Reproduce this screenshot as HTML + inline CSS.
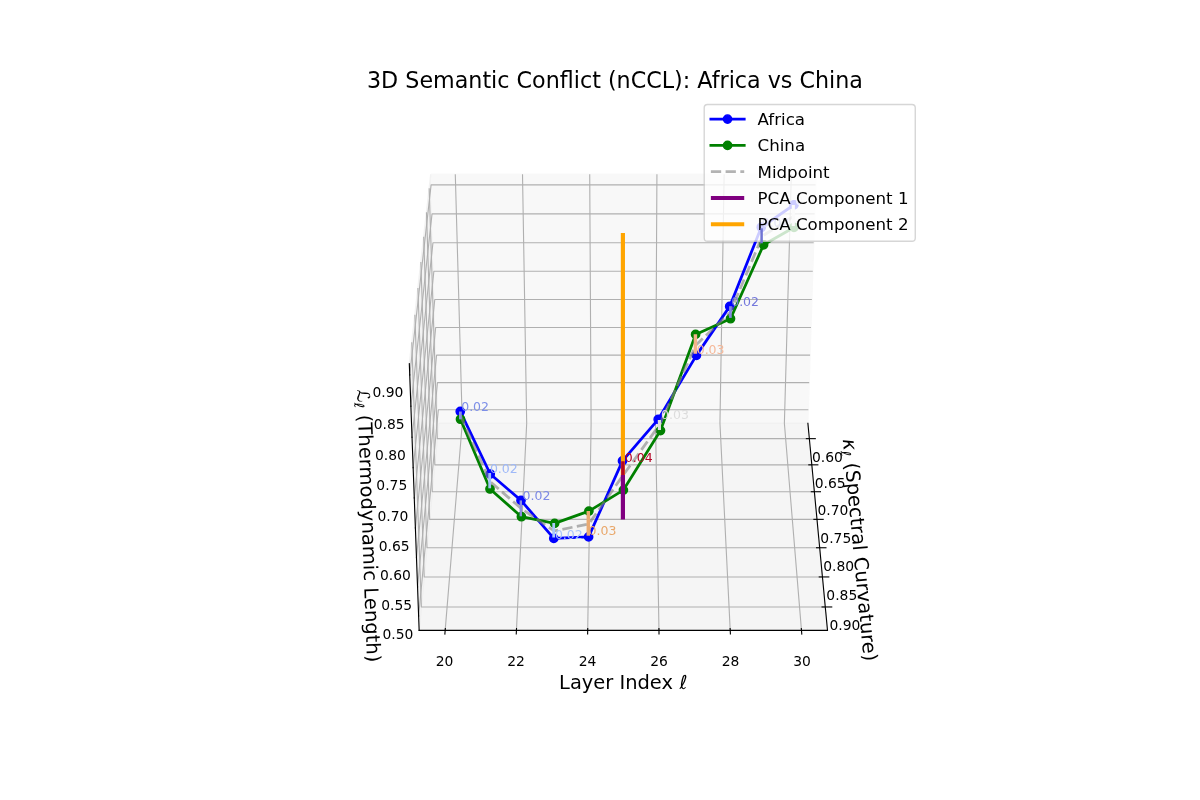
<!DOCTYPE html>
<html lang="en"><head><meta charset="utf-8"><title>3D Semantic Conflict (nCCL): Africa vs China</title>
<style>html,body{margin:0;padding:0;background:#fff;width:1200px;height:800px;overflow:hidden}svg{display:block;font-family:"DejaVu Sans","Liberation Sans",sans-serif}</style>
</head><body>
<svg width="1200" height="800" viewBox="0 0 864 576">
 <defs>
  <style type="text/css">*{stroke-linejoin: round; stroke-linecap: butt}</style>
 </defs>
 <g id="figure_1">
  <g id="patch_1">
   <path d="M 0 576 
L 864 576 
L 864 0 
L 0 0 
z
" style="fill: #ffffff"/>
  </g>
  <g id="patch_2">
   <path d="M 221.04 512.64 
L 664.56 512.64 
L 664.56 69.12 
L 221.04 69.12 
z
" style="fill: #ffffff"/>
  </g>
  <g id="pane3d_1">
   <g id="patch_3">
    <path d="M 315.907197 304.755523 
L 301.794363 453.864811 
L 294.708461 261.847835 
L 310.143239 125.505355 
" style="fill: #e6e6e6; opacity: 0.5; stroke: #e6e6e6; stroke-linejoin: miter"/>
   </g>
  </g>
  <g id="pane3d_2">
   <g id="patch_4">
    <path d="M 315.907197 304.755523 
L 581.67983 304.755523 
L 587.443788 125.505355 
L 310.143239 125.505355 
" style="fill: #f2f2f2; opacity: 0.5; stroke: #f2f2f2; stroke-linejoin: miter"/>
   </g>
  </g>
  <g id="pane3d_3">
   <g id="patch_5">
    <path d="M 315.907197 304.755523 
L 581.67983 304.755523 
L 595.792664 453.864811 
L 301.794363 453.864811 
" style="fill: #ececec; opacity: 0.5; stroke: #ececec; stroke-linejoin: miter"/>
   </g>
  </g>
  <g id="grid3d_1">
   <g id="Line3DCollection_1">
    <path d="M 320.522003 453.864811 
L 332.836867 304.755523 
L 327.807236 125.505355 
" style="fill: none; stroke: #b0b0b0; stroke-width: 0.8"/>
    <path d="M 371.830607 453.864811 
L 379.219526 304.755523 
L 376.201747 125.505355 
" style="fill: none; stroke: #b0b0b0; stroke-width: 0.8"/>
    <path d="M 423.139212 453.864811 
L 425.602184 304.755523 
L 424.596258 125.505355 
" style="fill: none; stroke: #b0b0b0; stroke-width: 0.8"/>
    <path d="M 474.447816 453.864811 
L 471.984843 304.755523 
L 472.990769 125.505355 
" style="fill: none; stroke: #b0b0b0; stroke-width: 0.8"/>
    <path d="M 525.75642 453.864811 
L 518.367501 304.755523 
L 521.38528 125.505355 
" style="fill: none; stroke: #b0b0b0; stroke-width: 0.8"/>
    <path d="M 577.065024 453.864811 
L 564.75016 304.755523 
L 569.779791 125.505355 
" style="fill: none; stroke: #b0b0b0; stroke-width: 0.8"/>
   </g>
  </g>
  <g id="grid3d_2">
   <g id="Line3DCollection_2">
    <path d="M 309.001689 135.589193 
L 314.858945 315.830835 
L 582.728082 315.830835 
" style="fill: none; stroke: #b0b0b0; stroke-width: 0.8"/>
    <path d="M 307.056752 152.769718 
L 313.074619 334.683155 
L 584.512408 334.683155 
" style="fill: none; stroke: #b0b0b0; stroke-width: 0.8"/>
    <path d="M 305.056931 170.435056 
L 311.242108 354.044572 
L 586.344919 354.044572 
" style="fill: none; stroke: #b0b0b0; stroke-width: 0.8"/>
    <path d="M 302.999869 188.606023 
L 309.359433 373.935991 
L 588.227594 373.935991 
" style="fill: none; stroke: #b0b0b0; stroke-width: 0.8"/>
    <path d="M 300.883075 207.304643 
L 307.424506 394.379476 
L 590.162521 394.379476 
" style="fill: none; stroke: #b0b0b0; stroke-width: 0.8"/>
    <path d="M 298.703906 226.554237 
L 305.435122 415.398334 
L 592.151905 415.398334 
" style="fill: none; stroke: #b0b0b0; stroke-width: 0.8"/>
    <path d="M 296.459566 246.379523 
L 303.388948 437.017203 
L 594.198079 437.017203 
" style="fill: none; stroke: #b0b0b0; stroke-width: 0.8"/>
   </g>
  </g>
  <g id="grid3d_3">
   <g id="Line3DCollection_3">
    <path d="M 581.99232 295.037555 
L 315.594707 295.037555 
L 301.411878 443.500062 
" style="fill: none; stroke: #b0b0b0; stroke-width: 0.8"/>
    <path d="M 582.621731 275.463857 
L 314.965296 275.463857 
L 300.640906 422.607907 
" style="fill: none; stroke: #b0b0b0; stroke-width: 0.8"/>
    <path d="M 583.257118 255.704296 
L 314.329909 255.704296 
L 299.861825 401.496024 
" style="fill: none; stroke: #b0b0b0; stroke-width: 0.8"/>
    <path d="M 583.898568 235.756211 
L 313.688459 235.756211 
L 299.074507 380.160927 
" style="fill: none; stroke: #b0b0b0; stroke-width: 0.8"/>
    <path d="M 584.546166 215.616892 
L 313.040861 215.616892 
L 298.278821 358.599058 
" style="fill: none; stroke: #b0b0b0; stroke-width: 0.8"/>
    <path d="M 585.200003 195.283576 
L 312.387024 195.283576 
L 297.474632 336.806782 
" style="fill: none; stroke: #b0b0b0; stroke-width: 0.8"/>
    <path d="M 585.860169 174.753446 
L 311.726858 174.753446 
L 296.661804 314.780387 
" style="fill: none; stroke: #b0b0b0; stroke-width: 0.8"/>
    <path d="M 586.526756 154.023631 
L 311.060271 154.023631 
L 295.840195 292.516078 
" style="fill: none; stroke: #b0b0b0; stroke-width: 0.8"/>
    <path d="M 587.199858 133.091202 
L 310.38717 133.091202 
L 295.009665 270.00998 
" style="fill: none; stroke: #b0b0b0; stroke-width: 0.8"/>
   </g>
  </g>
  <g id="axis3d_1">
   <g id="line2d_1">
    <path d="M 301.794363 453.864811 
L 595.792664 453.864811 
" style="fill: none; stroke: #000000; stroke-width: 0.8; stroke-linecap: square"/>
   </g>
   <g id="xtick_1">
    <g id="line2d_2">
     <path d="M 320.630893 452.546371 
L 320.303669 456.508423 
" style="fill: none; stroke: #000000; stroke-width: 0.8; stroke-linecap: square"/>
    </g>
    <g id="text_1">
     <text style="font-size: 10px; font-family: 'DejaVu Sans', sans-serif; text-anchor: middle" x="320.1363" y="479.5666">20</text>
    </g>
   </g>
   <g id="xtick_2">
    <g id="line2d_3">
     <path d="M 371.895941 452.546371 
L 371.699607 456.508423 
" style="fill: none; stroke: #000000; stroke-width: 0.8; stroke-linecap: square"/>
    </g>
    <g id="text_2">
     <text style="font-size: 10px; font-family: 'DejaVu Sans', sans-serif; text-anchor: middle" x="371.5992" y="479.5666">22</text>
    </g>
   </g>
   <g id="xtick_3">
    <g id="line2d_4">
     <path d="M 423.160989 452.546371 
L 423.095545 456.508423 
" style="fill: none; stroke: #000000; stroke-width: 0.8; stroke-linecap: square"/>
    </g>
    <g id="text_3">
     <text style="font-size: 10px; font-family: 'DejaVu Sans', sans-serif; text-anchor: middle" x="423.0621" y="479.5666">24</text>
    </g>
   </g>
   <g id="xtick_4">
    <g id="line2d_5">
     <path d="M 474.426038 452.546371 
L 474.491482 456.508423 
" style="fill: none; stroke: #000000; stroke-width: 0.8; stroke-linecap: square"/>
    </g>
    <g id="text_4">
     <text style="font-size: 10px; font-family: 'DejaVu Sans', sans-serif; text-anchor: middle" x="474.5250" y="479.5666">26</text>
    </g>
   </g>
   <g id="xtick_5">
    <g id="line2d_6">
     <path d="M 525.691086 452.546371 
L 525.88742 456.508423 
" style="fill: none; stroke: #000000; stroke-width: 0.8; stroke-linecap: square"/>
    </g>
    <g id="text_5">
     <text style="font-size: 10px; font-family: 'DejaVu Sans', sans-serif; text-anchor: middle" x="525.9878" y="479.5666">28</text>
    </g>
   </g>
   <g id="xtick_6">
    <g id="line2d_7">
     <path d="M 576.956134 452.546371 
L 577.283358 456.508423 
" style="fill: none; stroke: #000000; stroke-width: 0.8; stroke-linecap: square"/>
    </g>
    <g id="text_6">
     <text style="font-size: 10px; font-family: 'DejaVu Sans', sans-serif; text-anchor: middle" x="577.4507" y="479.5666">30</text>
    </g>
   </g>
   <g id="text_7">
    <g transform="translate(402.5235 496.5025)">
     <text xml:space="preserve"><tspan x="0" y="-0.359375" style="font-size: 14px; font-family: 'DejaVu Sans', sans-serif">Layer Index </tspan><tspan x="86.720703" y="-0.359375" style="font-style: oblique; font-size: 14px; font-family: 'DejaVu Sans', sans-serif">ℓ</tspan></text>
    </g>
   </g>
  </g>
  <g id="axis3d_2">
   <g id="line2d_8">
    <path d="M 581.67983 304.755523 
L 595.792664 453.864811 
" style="fill: none; stroke: #000000; stroke-width: 0.8; stroke-linecap: square"/>
   </g>
   <g id="xtick_7">
    <g id="line2d_9">
     <path d="M 580.585128 315.830835 
L 587.013988 315.830835 
" style="fill: none; stroke: #000000; stroke-width: 0.8; stroke-linecap: square"/>
    </g>
    <g id="text_8">
     <text style="font-size: 10px; font-family: 'DejaVu Sans', sans-serif; text-anchor: middle" x="595.7570" y="332.2965">0.60</text>
    </g>
   </g>
   <g id="xtick_8">
    <g id="line2d_10">
     <path d="M 582.340906 334.683155 
L 588.855413 334.683155 
" style="fill: none; stroke: #000000; stroke-width: 0.8; stroke-linecap: square"/>
    </g>
    <g id="text_9">
     <text style="font-size: 10px; font-family: 'DejaVu Sans', sans-serif; text-anchor: middle" x="597.7108" y="351.2231">0.65</text>
    </g>
   </g>
   <g id="xtick_9">
    <g id="line2d_11">
     <path d="M 584.144097 354.044572 
L 590.746564 354.044572 
" style="fill: none; stroke: #000000; stroke-width: 0.8; stroke-linecap: square"/>
    </g>
    <g id="text_10">
     <text style="font-size: 10px; font-family: 'DejaVu Sans', sans-serif; text-anchor: middle" x="599.7172" y="370.6597">0.70</text>
    </g>
   </g>
   <g id="xtick_10">
    <g id="line2d_12">
     <path d="M 585.996649 373.935991 
L 592.689485 373.935991 
" style="fill: none; stroke: #000000; stroke-width: 0.8; stroke-linecap: square"/>
    </g>
    <g id="text_11">
     <text style="font-size: 10px; font-family: 'DejaVu Sans', sans-serif; text-anchor: middle" x="601.7784" y="390.6272">0.75</text>
    </g>
   </g>
   <g id="xtick_11">
    <g id="line2d_13">
     <path d="M 587.900617 394.379476 
L 594.686329 394.379476 
" style="fill: none; stroke: #000000; stroke-width: 0.8; stroke-linecap: square"/>
    </g>
    <g id="text_12">
     <text style="font-size: 10px; font-family: 'DejaVu Sans', sans-serif; text-anchor: middle" x="603.8967" y="411.1477">0.80</text>
    </g>
   </g>
   <g id="xtick_12">
    <g id="line2d_14">
     <path d="M 589.858171 415.398334 
L 596.739373 415.398334 
" style="fill: none; stroke: #000000; stroke-width: 0.8; stroke-linecap: square"/>
    </g>
    <g id="text_13">
     <text style="font-size: 10px; font-family: 'DejaVu Sans', sans-serif; text-anchor: middle" x="606.0745" y="432.2445">0.85</text>
    </g>
   </g>
   <g id="xtick_13">
    <g id="line2d_15">
     <path d="M 591.871606 437.017203 
L 598.851025 437.017203 
" style="fill: none; stroke: #000000; stroke-width: 0.8; stroke-linecap: square"/>
    </g>
    <g id="text_14">
     <text style="font-size: 10px; font-family: 'DejaVu Sans', sans-serif; text-anchor: middle" x="608.3143" y="453.9421">0.90</text>
    </g>
   </g>
   <g id="text_15">
    <g transform="translate(606.4756 316.4521) rotate(-275.406801)">
     <text xml:space="preserve"><tspan x="0" y="-0.359375" style="font-style: oblique; font-size: 14px; font-family: 'DejaVu Sans', sans-serif">κ</tspan><tspan x="8.250977" y="1.9375" style="font-style: oblique; font-size: 9.8px; font-family: 'DejaVu Sans', sans-serif">ℓ</tspan><tspan x="12.682031" y="-0.359375" style="font-size: 14px; font-family: 'DejaVu Sans', sans-serif; letter-spacing: 0.045px"> (Spectral Curvature)</tspan></text>
    </g>
   </g>
  </g>
  <g id="axis3d_3">
   <g id="line2d_16">
    <path d="M 301.794363 453.864811 
L 294.708461 261.847835 
" style="fill: none; stroke: #000000; stroke-width: 0.8; stroke-linecap: square"/>
   </g>
   <g id="xtick_14">
    <g id="line2d_17">
     <path d="M 301.411878 443.500062 
L 301.411878 443.500062 
" style="fill: none; stroke: #000000; stroke-width: 0.8; stroke-linecap: square"/>
    </g>
    <g id="text_16">
     <text style="font-size: 10px; font-family: 'DejaVu Sans', sans-serif; text-anchor: middle" x="286.4499" y="460.0401">0.50</text>
    </g>
   </g>
   <g id="xtick_15">
    <g id="line2d_18">
     <path d="M 300.640906 422.607907 
L 300.640906 422.607907 
" style="fill: none; stroke: #000000; stroke-width: 0.8; stroke-linecap: square"/>
    </g>
    <g id="text_17">
     <text style="font-size: 10px; font-family: 'DejaVu Sans', sans-serif; text-anchor: middle" x="285.5931" y="439.0792">0.55</text>
    </g>
   </g>
   <g id="xtick_16">
    <g id="line2d_19">
     <path d="M 299.861825 401.496024 
L 299.861825 401.496024 
" style="fill: none; stroke: #000000; stroke-width: 0.8; stroke-linecap: square"/>
    </g>
    <g id="text_18">
     <text style="font-size: 10px; font-family: 'DejaVu Sans', sans-serif; text-anchor: middle" x="284.7272" y="417.8967">0.60</text>
    </g>
   </g>
   <g id="xtick_17">
    <g id="line2d_20">
     <path d="M 299.074507 380.160927 
L 299.074507 380.160927 
" style="fill: none; stroke: #000000; stroke-width: 0.8; stroke-linecap: square"/>
    </g>
    <g id="text_19">
     <text style="font-size: 10px; font-family: 'DejaVu Sans', sans-serif; text-anchor: middle" x="283.8521" y="396.4891">0.65</text>
    </g>
   </g>
   <g id="xtick_18">
    <g id="line2d_21">
     <path d="M 298.278821 358.599058 
L 298.278821 358.599058 
" style="fill: none; stroke: #000000; stroke-width: 0.8; stroke-linecap: square"/>
    </g>
    <g id="text_20">
     <text style="font-size: 10px; font-family: 'DejaVu Sans', sans-serif; text-anchor: middle" x="282.9677" y="374.8527">0.70</text>
    </g>
   </g>
   <g id="xtick_19">
    <g id="line2d_22">
     <path d="M 297.474632 336.806782 
L 297.474632 336.806782 
" style="fill: none; stroke: #000000; stroke-width: 0.8; stroke-linecap: square"/>
    </g>
    <g id="text_21">
     <text style="font-size: 10px; font-family: 'DejaVu Sans', sans-serif; text-anchor: middle" x="282.0737" y="352.9838">0.75</text>
    </g>
   </g>
   <g id="xtick_20">
    <g id="line2d_23">
     <path d="M 296.661804 314.780387 
L 296.661804 314.780387 
" style="fill: none; stroke: #000000; stroke-width: 0.8; stroke-linecap: square"/>
    </g>
    <g id="text_22">
     <text style="font-size: 10px; font-family: 'DejaVu Sans', sans-serif; text-anchor: middle" x="281.1701" y="330.8786">0.80</text>
    </g>
   </g>
   <g id="xtick_21">
    <g id="line2d_24">
     <path d="M 295.840195 292.516078 
L 295.840195 292.516078 
" style="fill: none; stroke: #000000; stroke-width: 0.8; stroke-linecap: square"/>
    </g>
    <g id="text_23">
     <text style="font-size: 10px; font-family: 'DejaVu Sans', sans-serif; text-anchor: middle" x="280.2567" y="308.5334">0.85</text>
    </g>
   </g>
   <g id="xtick_22">
    <g id="line2d_25">
     <path d="M 295.009665 270.00998 
L 295.009665 270.00998 
" style="fill: none; stroke: #000000; stroke-width: 0.8; stroke-linecap: square"/>
    </g>
    <g id="text_24">
     <text style="font-size: 10px; font-family: 'DejaVu Sans', sans-serif; text-anchor: middle" x="279.3334" y="285.9442">0.90</text>
    </g>
   </g>
   <g id="text_25">
    <g transform="translate(256.6935 280.0655) rotate(-272.113397)">
     <text xml:space="preserve"><tspan x="0.5" y="-0.359375" style="font-style: italic; font-size: 12.6px; font-family: 'DejaVu Sans', sans-serif">ℒ</tspan><tspan x="9.83598" y="1.9375" style="font-style: oblique; font-size: 9.8px; font-family: 'DejaVu Sans', sans-serif">ℓ</tspan><tspan x="14.267035" y="-0.359375" style="font-size: 14px; font-family: 'DejaVu Sans', sans-serif; letter-spacing: 0.056px"> (Thermodynamic Length)</tspan></text>
    </g>
   </g>
  </g>
  <g id="axes_1">
   <g id="line2d_26">
    <path d="M 331.38 296.244 
L 352.98 341.28 
L 375.12 360.288 
L 398.736 387.648 
L 423.792 386.568 
L 448.2 331.848 
L 473.904 301.968 
L 501.408 255.888 
L 525.384 220.608 
L 548.136 163.656 
L 571.68 147.456 
" clip-path="url(#p24e002a8de)" style="fill: none; stroke: #0000ff; stroke-width: 2; stroke-linecap: square"/>
    <defs>
     <path id="m4c0daf60ea" d="M 0 3 
C 0.795609 3 1.55874 2.683901 2.12132 2.12132 
C 2.683901 1.55874 3 0.795609 3 0 
C 3 -0.795609 2.683901 -1.55874 2.12132 -2.12132 
C 1.55874 -2.683901 0.795609 -3 0 -3 
C -0.795609 -3 -1.55874 -2.683901 -2.12132 -2.12132 
C -2.683901 -1.55874 -3 -0.795609 -3 0 
C -3 0.795609 -2.683901 1.55874 -2.12132 2.12132 
C -1.55874 2.683901 -0.795609 3 0 3 
z
" style="stroke: #0000ff"/>
    </defs>
    <g clip-path="url(#p24e002a8de)">
     <use xlink:href="#m4c0daf60ea" x="331.38" y="296.244" style="fill: #0000ff; stroke: #0000ff"/>
     <use xlink:href="#m4c0daf60ea" x="352.98" y="341.28" style="fill: #0000ff; stroke: #0000ff"/>
     <use xlink:href="#m4c0daf60ea" x="375.12" y="360.288" style="fill: #0000ff; stroke: #0000ff"/>
     <use xlink:href="#m4c0daf60ea" x="398.736" y="387.648" style="fill: #0000ff; stroke: #0000ff"/>
     <use xlink:href="#m4c0daf60ea" x="423.792" y="386.568" style="fill: #0000ff; stroke: #0000ff"/>
     <use xlink:href="#m4c0daf60ea" x="448.2" y="331.848" style="fill: #0000ff; stroke: #0000ff"/>
     <use xlink:href="#m4c0daf60ea" x="473.904" y="301.968" style="fill: #0000ff; stroke: #0000ff"/>
     <use xlink:href="#m4c0daf60ea" x="501.408" y="255.888" style="fill: #0000ff; stroke: #0000ff"/>
     <use xlink:href="#m4c0daf60ea" x="525.384" y="220.608" style="fill: #0000ff; stroke: #0000ff"/>
     <use xlink:href="#m4c0daf60ea" x="548.136" y="163.656" style="fill: #0000ff; stroke: #0000ff"/>
     <use xlink:href="#m4c0daf60ea" x="571.68" y="147.456" style="fill: #0000ff; stroke: #0000ff"/>
    </g>
   </g>
   <g id="line2d_27">
    <path d="M 331.56 301.86 
L 352.8 352.08 
L 375.408 372.024 
L 399.312 376.848 
L 424.008 367.992 
L 448.848 352.872 
L 475.56 310.032 
L 500.832 240.768 
L 525.96 229.464 
L 549.792 176.256 
L 571.68 163.728 
" clip-path="url(#p24e002a8de)" style="fill: none; stroke: #008000; stroke-width: 2; stroke-linecap: square"/>
    <defs>
     <path id="m7017fe4a5a" d="M 0 3 
C 0.795609 3 1.55874 2.683901 2.12132 2.12132 
C 2.683901 1.55874 3 0.795609 3 0 
C 3 -0.795609 2.683901 -1.55874 2.12132 -2.12132 
C 1.55874 -2.683901 0.795609 -3 0 -3 
C -0.795609 -3 -1.55874 -2.683901 -2.12132 -2.12132 
C -2.683901 -1.55874 -3 -0.795609 -3 0 
C -3 0.795609 -2.683901 1.55874 -2.12132 2.12132 
C -1.55874 2.683901 -0.795609 3 0 3 
z
" style="stroke: #008000"/>
    </defs>
    <g clip-path="url(#p24e002a8de)">
     <use xlink:href="#m7017fe4a5a" x="331.56" y="301.86" style="fill: #008000; stroke: #008000"/>
     <use xlink:href="#m7017fe4a5a" x="352.8" y="352.08" style="fill: #008000; stroke: #008000"/>
     <use xlink:href="#m7017fe4a5a" x="375.408" y="372.024" style="fill: #008000; stroke: #008000"/>
     <use xlink:href="#m7017fe4a5a" x="399.312" y="376.848" style="fill: #008000; stroke: #008000"/>
     <use xlink:href="#m7017fe4a5a" x="424.008" y="367.992" style="fill: #008000; stroke: #008000"/>
     <use xlink:href="#m7017fe4a5a" x="448.848" y="352.872" style="fill: #008000; stroke: #008000"/>
     <use xlink:href="#m7017fe4a5a" x="475.56" y="310.032" style="fill: #008000; stroke: #008000"/>
     <use xlink:href="#m7017fe4a5a" x="500.832" y="240.768" style="fill: #008000; stroke: #008000"/>
     <use xlink:href="#m7017fe4a5a" x="525.96" y="229.464" style="fill: #008000; stroke: #008000"/>
     <use xlink:href="#m7017fe4a5a" x="549.792" y="176.256" style="fill: #008000; stroke: #008000"/>
     <use xlink:href="#m7017fe4a5a" x="571.68" y="163.728" style="fill: #008000; stroke: #008000"/>
    </g>
   </g>
   <g id="line2d_28">
    <path d="M 331.47 299.052 
L 352.89 346.68 
L 375.264 366.156 
L 399.024 382.248 
L 423.9 377.28 
L 448.524 342.36 
L 474.732 306 
L 501.12 248.328 
L 525.672 225.036 
L 548.964 169.956 
L 571.68 155.592 
" clip-path="url(#p24e002a8de)" style="fill: none; stroke-dasharray: 7.4,3.2; stroke-dashoffset: 0; stroke: #808080; stroke-opacity: 0.6; stroke-width: 2"/>
   </g>
   <g id="line2d_29">
    <path d="M 448.488 167.76 
L 448.488 342 
" clip-path="url(#p24e002a8de)" style="fill: none; stroke: #ffa500; stroke-width: 3"/>
   </g>
   <g id="line2d_30">
    <path d="M 331.488 296.28 
L 331.488 301.896 
" clip-path="url(#p24e002a8de)" style="fill: none; stroke: #8a8ee2; stroke-width: 2"/>
   </g>
   <g id="line2d_31">
    <path d="M 352.584 340.56 
L 352.584 351.576 
" clip-path="url(#p24e002a8de)" style="fill: none; stroke: #a3c0f8; stroke-width: 2"/>
   </g>
   <g id="line2d_32">
    <path d="M 374.976 360.288 
L 374.976 371.736 
" clip-path="url(#p24e002a8de)" style="fill: none; stroke: #8b8de0; stroke-width: 1.7"/>
   </g>
   <g id="line2d_33">
    <path d="M 398.664 376.56 
L 398.664 387 
" clip-path="url(#p24e002a8de)" style="fill: none; stroke: #a9c8fb; stroke-width: 2"/>
   </g>
   <g id="line2d_34">
    <path d="M 423.576 367.92 
L 423.576 385.704 
" clip-path="url(#p24e002a8de)" style="fill: none; stroke: #eaaa72; stroke-width: 2.5"/>
   </g>
   <g id="line2d_35">
    <path d="M 448.488 332.1 
L 448.488 352.8 
" clip-path="url(#p24e002a8de)" style="fill: none; stroke: #b40426; stroke-width: 2.5"/>
   </g>
   <g id="line2d_36">
    <path d="M 474.768 302.4 
L 474.768 309.6 
" clip-path="url(#p24e002a8de)" style="fill: none; stroke: #dedede; stroke-width: 2.3"/>
   </g>
   <g id="line2d_37">
    <path d="M 500.688 240.66 
L 500.688 254.7 
" clip-path="url(#p24e002a8de)" style="fill: none; stroke: #f4b48c; stroke-width: 2.5"/>
   </g>
   <g id="line2d_38">
    <path d="M 525.888 220.464 
L 525.888 228.888 
" clip-path="url(#p24e002a8de)" style="fill: none; stroke: #8686e6; stroke-width: 1.9"/>
   </g>
   <g id="line2d_39">
    <path d="M 571.176 147.6 
L 571.176 162.72 
" clip-path="url(#p24e002a8de)" style="fill: none; stroke: #e6e6e6; stroke-width: 2.3"/>
   </g>
   <g id="text_26">
    <text style="font-size: 16px; font-family: 'DejaVu Sans', sans-serif; text-anchor: middle" x="442.8" y="63.12">3D Semantic Conflict (nCCL): Africa vs China</text>
   </g>
   <g id="line2d_40">
    <path d="M 448.488 342 
L 448.488 374.04 
" clip-path="url(#p24e002a8de)" style="fill: none; stroke: #800080; stroke-width: 3"/>
   </g>
   <g id="text_27">
    <text style="font-size: 9px; font-family: 'DejaVu Sans', sans-serif; text-anchor: start; fill: #7d8fe8" x="332.064" y="295.632">0.02</text>
   </g>
   <g id="text_28">
    <text style="font-size: 9px; font-family: 'DejaVu Sans', sans-serif; text-anchor: start; fill: #9fb9f8" x="352.728" y="340.56">0.02</text>
   </g>
   <g id="text_29">
    <text style="font-size: 9px; font-family: 'DejaVu Sans', sans-serif; text-anchor: start; fill: #7d8ae6" x="376.2" y="359.856">0.02</text>
   </g>
   <g id="text_30">
    <text style="font-size: 9px; font-family: 'DejaVu Sans', sans-serif; text-anchor: start; fill: #a9c5fc" x="399.528" y="387.72">0.02</text>
   </g>
   <g id="text_31">
    <text style="font-size: 9px; font-family: 'DejaVu Sans', sans-serif; text-anchor: start; fill: #e9a86c" x="423.792" y="385.056">0.03</text>
   </g>
   <g id="text_32">
    <text style="font-size: 9px; font-family: 'DejaVu Sans', sans-serif; text-anchor: start; fill: #b40426" x="449.856" y="332.568">0.04</text>
   </g>
   <g id="text_33">
    <text style="font-size: 9px; font-family: 'DejaVu Sans', sans-serif; text-anchor: start; fill: #dcdcdc" x="475.992" y="301.968">0.03</text>
   </g>
   <g id="text_34">
    <text style="font-size: 9px; font-family: 'DejaVu Sans', sans-serif; text-anchor: start; fill: #f5b99a" x="501.624" y="254.52">0.03</text>
   </g>
   <g id="text_35">
    <text style="font-size: 9px; font-family: 'DejaVu Sans', sans-serif; text-anchor: start; fill: #7478dc" x="526.464" y="219.96">0.02</text>
   </g>
   <g id="text_36">
    <text style="font-size: 9px; font-family: 'DejaVu Sans', sans-serif; text-anchor: start; fill: #7074d4" x="548.424" y="163.44">0.02</text>
   </g>
   <g id="text_37">
    <text style="font-size: 9px; font-family: 'DejaVu Sans', sans-serif; text-anchor: start; fill: #e4e4e4" x="572.544" y="147.6">0.03</text>
   </g>
   <g id="legend_1">
    <g id="patch_6">
     <path d="M 509.4364 173.72475 
L 656.5920 173.72475 
Q 658.9920 173.72475 658.9920 171.32475 
L 658.9920 77.664 
Q 658.9920 75.264 656.5920 75.264 
L 509.4364 75.264 
Q 507.0364 75.264 507.0364 77.664 
L 507.0364 171.32475 
Q 507.0364 173.72475 509.4364 173.72475 
z
" style="fill: #ffffff; opacity: 0.8; stroke: #cccccc; stroke-linejoin: miter"/>
    </g>
    <g id="line2d_41">
     <path d="M 511.836375 85.738125 
L 523.836375 85.738125 
L 535.836375 85.738125 
" style="fill: none; stroke: #0000ff; stroke-width: 2; stroke-linecap: square"/>
     <g>
      <use xlink:href="#m4c0daf60ea" x="523.836375" y="85.738125" style="fill: #0000ff; stroke: #0000ff"/>
     </g>
    </g>
    <g id="text_38">
     <text style="font-size: 12px; font-family: 'DejaVu Sans', sans-serif; text-anchor: start" x="545.436375" y="89.938125">Africa</text>
    </g>
    <g id="line2d_42">
     <path d="M 511.836375 104.671875 
L 523.836375 104.671875 
L 535.836375 104.671875 
" style="fill: none; stroke: #008000; stroke-width: 2; stroke-linecap: square"/>
     <g>
      <use xlink:href="#m7017fe4a5a" x="523.836375" y="104.671875" style="fill: #008000; stroke: #008000"/>
     </g>
    </g>
    <g id="text_39">
     <text style="font-size: 12px; font-family: 'DejaVu Sans', sans-serif; text-anchor: start" x="545.436375" y="108.871875">China</text>
    </g>
    <g id="line2d_43">
     <path d="M 511.836375 123.605625 
L 523.836375 123.605625 
L 535.836375 123.605625 
" style="fill: none; stroke-dasharray: 7.4,3.2; stroke-dashoffset: 0; stroke: #808080; stroke-opacity: 0.6; stroke-width: 2"/>
    </g>
    <g id="text_40">
     <text style="font-size: 12px; font-family: 'DejaVu Sans', sans-serif; text-anchor: start" x="545.436375" y="127.805625">Midpoint</text>
    </g>
    <g id="line2d_44">
     <path d="M 511.836375 142.539375 
L 523.836375 142.539375 
L 535.836375 142.539375 
" style="fill: none; stroke: #800080; stroke-width: 3"/>
    </g>
    <g id="text_41">
     <text style="font-size: 12px; font-family: 'DejaVu Sans', sans-serif; text-anchor: start" x="545.436375" y="146.739375">PCA Component 1</text>
    </g>
    <g id="line2d_45">
     <path d="M 511.836375 161.473125 
L 523.836375 161.473125 
L 535.836375 161.473125 
" style="fill: none; stroke: #ffa500; stroke-width: 3"/>
    </g>
    <g id="text_42">
     <text style="font-size: 12px; font-family: 'DejaVu Sans', sans-serif; text-anchor: start" x="545.436375" y="165.673125">PCA Component 2</text>
    </g>
   </g>
   <g id="line2d_46">
    <path d="M 548.352 164.376 
L 548.352 175.176 
" clip-path="url(#p24e002a8de)" style="fill: none; stroke: #7074d4; stroke-width: 1.8"/>
   </g>
  </g>
 </g>
 <defs>
  <clipPath id="p24e002a8de">
   <rect x="221.04" y="69.12" width="443.52" height="443.52"/>
  </clipPath>
 </defs>
</svg>

</body></html>
